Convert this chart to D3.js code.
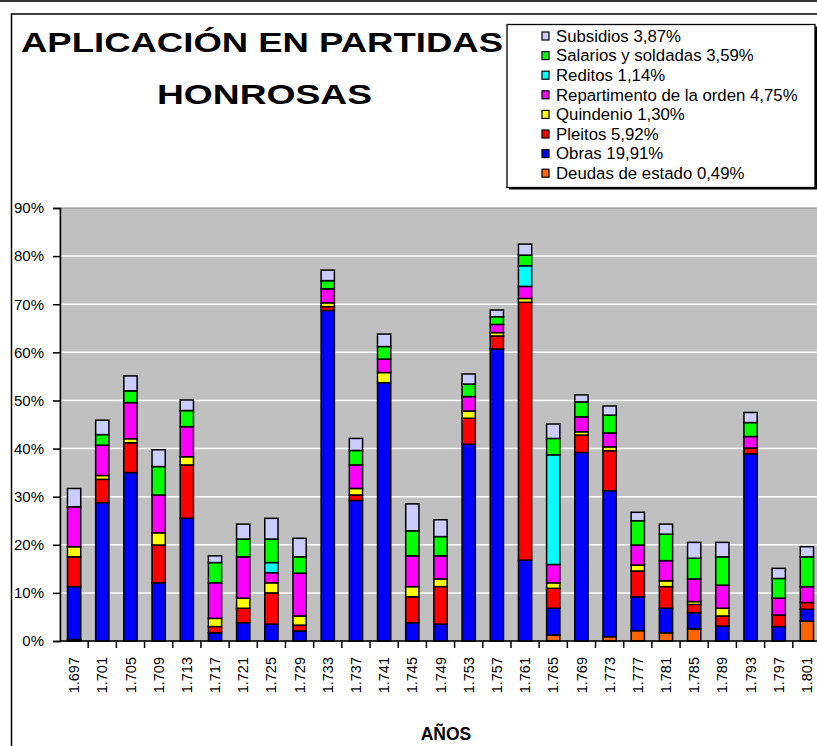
<!DOCTYPE html>
<html>
<head>
<meta charset="utf-8">
<script src="https://cdn.jsdelivr.net/npm/d3@7"></script>
<style>
  body { margin: 0; background: #fff; }
  svg { display: block; font-family: "Liberation Sans", Arial, sans-serif; }
</style>
</head>
<body>
<div id="chart"></div>
<script>
// Data (percent of total)
const years = ["1.697","1.701","1.705","1.709","1.713","1.717","1.721","1.725","1.729","1.733","1.737","1.741","1.745","1.749","1.753","1.757","1.761","1.765","1.769","1.773","1.777","1.781","1.785","1.789","1.793","1.797","1.801"];

const deudas       = [0.3,0,0,0,0,0,0,0,0,0,0,0,0,0,0,0,0,1.25,0,0.9,2.15,1.7,2.5,0,0,0,4.15];
const obras        = [11.0,28.75,35.0,12.1,25.5,1.7,3.8,3.5,2.1,68.7,29.2,53.7,3.8,3.5,40.9,60.7,16.8,5.55,39.2,30.35,7.05,5.1,3.4,3.1,38.9,3.0,2.45];
const pleitos      = [6.2,4.85,6.2,7.85,11.1,1.3,3.0,6.5,1.2,0.8,1.15,0,5.4,7.8,5.4,2.7,53.6,4.15,3.6,8.3,5.35,4.5,1.7,2.1,1.2,2.4,1.4];
const quindenio    = [2.1,0.8,0.85,2.55,1.7,1.7,2.1,2.1,1.9,0.8,1.35,2.1,2.1,1.6,1.5,0.7,0.8,1.15,0.7,0.8,1.25,1.2,0.6,1.6,0,0,0];
const repartimento = [8.3,6.3,7.5,7.85,6.25,7.4,8.6,2.1,8.9,2.9,4.9,2.8,6.4,4.8,3.0,1.7,2.5,3.8,3.1,2.9,4.15,4.2,4.7,4.8,2.4,3.5,3.3];
const reditos      = [0,0,0,0,0,0,0,2.1,0,0,0,0,0,0,0,0,4.3,22.8,0,0,0,0,0,0,0,0,0];
const salarios     = [0,2.2,2.45,5.9,3.35,4.2,3.7,4.9,3.4,1.7,3.0,2.6,5.2,4.0,2.6,1.6,2.2,3.4,3.1,3.7,5.05,5.5,4.3,5.9,2.9,4.1,6.2];
const subsidios    = [3.8,3.0,3.1,3.5,2.2,1.4,3.1,4.3,3.85,2.2,2.5,2.6,5.6,3.5,2.1,1.4,2.3,3.0,1.45,1.9,1.75,2.1,3.3,3.0,2.1,2.1,2.1];

// bottom to top stacking order
const series = [
  { key: "deudas",       label: "Deudas de estado 0,49%",         color: "#FF6600", values: deudas },
  { key: "obras",        label: "Obras 19,91%",                   color: "#0000FF", values: obras },
  { key: "pleitos",      label: "Pleitos 5,92%",                  color: "#FF0000", values: pleitos },
  { key: "quindenio",    label: "Quindenio 1,30%",                color: "#FFFF00", values: quindenio },
  { key: "repartimento", label: "Repartimento de la orden 4,75%", color: "#FF00FF", values: repartimento },
  { key: "reditos",      label: "Reditos 1,14%",                  color: "#00FFFF", values: reditos },
  { key: "salarios",     label: "Salarios y soldadas 3,59%",      color: "#00FF00", values: salarios },
  { key: "subsidios",    label: "Subsidios 3,87%",                color: "#CCCCFF", values: subsidios }
];
const yTicks = [0, 10, 20, 30, 40, 50, 60, 70, 80, 90];

const width = 817, height = 746;
const plot = { left: 60, top: 208, right: 821, bottom: 641 };

const svg = d3.select("#chart").append("svg")
  .attr("width", width)
  .attr("height", height);

svg.append("rect").attr("width", width).attr("height", height).attr("fill", "#fff");

// sheet line at very top
svg.append("line")
  .attr("x1", 0).attr("x2", width).attr("y1", 1).attr("y2", 1)
  .attr("stroke", "#333").attr("stroke-width", 2);

// chart frame (runs off the page right and bottom)
svg.append("rect")
  .attr("x", 11.5).attr("y", 14)
  .attr("width", 900).attr("height", 800)
  .attr("fill", "none").attr("stroke", "#000").attr("stroke-width", 1.5);

// Title
svg.append("text")
  .attr("x", 262).attr("y", 52)
  .attr("text-anchor", "middle")
  .attr("font-size", "28px").attr("font-weight", "bold")
  .attr("textLength", 482).attr("lengthAdjust", "spacingAndGlyphs")
  .text("APLICACIÓN EN PARTIDAS");
svg.append("text")
  .attr("x", 264.5).attr("y", 104)
  .attr("text-anchor", "middle")
  .attr("font-size", "28px").attr("font-weight", "bold")
  .attr("textLength", 215).attr("lengthAdjust", "spacingAndGlyphs")
  .text("HONROSAS");

// Scales
const x = d3.scaleBand()
  .domain(years)
  .range([plot.left, plot.right])
  .paddingInner(0.53).paddingOuter(0.265);
const y = d3.scaleLinear()
  .domain([0, 90])
  .range([plot.bottom, plot.top]);

// Plot area
svg.append("rect")
  .attr("x", plot.left).attr("y", plot.top)
  .attr("width", plot.right - plot.left).attr("height", plot.bottom - plot.top)
  .attr("fill", "#C0C0C0").attr("stroke", "#808080").attr("stroke-width", 1);

// gridlines
svg.append("g")
  .selectAll("line")
  .data(yTicks.filter(d => d > 0 && d < 90))
  .enter().append("line")
  .attr("x1", plot.left).attr("x2", plot.right)
  .attr("y1", d => y(d)).attr("y2", d => y(d))
  .attr("stroke", "#fff").attr("stroke-width", 1.5);

// Stack
const table = years.map((yr, i) => {
  const row = { year: yr };
  series.forEach(s => row[s.key] = s.values[i]);
  return row;
});
const stacked = d3.stack().keys(series.map(s => s.key))(table);

const layers = svg.append("g")
  .selectAll("g")
  .data(stacked)
  .enter().append("g")
  .attr("fill", (d, i) => series[i].color);

layers.selectAll("rect")
  .data(d => d.filter(p => p[1] - p[0] > 0))
  .enter().append("rect")
  .attr("x", d => x(d.data.year))
  .attr("width", x.bandwidth())
  .attr("y", d => y(d[1]))
  .attr("height", d => y(d[0]) - y(d[1]))
  .attr("stroke", "#000")
  .attr("stroke-width", 1.5);

// Y axis
const yAxis = svg.append("g")
  .attr("transform", `translate(${plot.left},0)`)
  .call(d3.axisLeft(y).tickValues(yTicks).tickSize(7).tickPadding(9).tickFormat(d => d + "%"));
yAxis.select(".domain").attr("stroke", "#000").attr("stroke-width", 1.5);
yAxis.selectAll(".tick line").attr("stroke", "#000").attr("stroke-width", 1.5);
yAxis.selectAll("text")
  .attr("font-size", "15px").attr("fill", "#000")
  .attr("font-family", "Liberation Sans, Arial, sans-serif");

// X axis line and ticks at band boundaries
const xAxis = svg.append("g");
xAxis.append("line")
  .attr("x1", plot.left).attr("x2", plot.right)
  .attr("y1", plot.bottom).attr("y2", plot.bottom)
  .attr("stroke", "#000").attr("stroke-width", 1.5);
xAxis.selectAll(".xtick")
  .data(years)
  .enter().append("line")
  .attr("class", "xtick")
  .attr("x1", d => x(d) + x.bandwidth() / 2 + x.step() / 2)
  .attr("x2", d => x(d) + x.bandwidth() / 2 + x.step() / 2)
  .attr("y1", plot.bottom).attr("y2", plot.bottom + 7)
  .attr("stroke", "#000").attr("stroke-width", 1.5);
xAxis.selectAll(".xlabel")
  .data(years)
  .enter().append("text")
  .attr("class", "xlabel")
  .attr("transform", d => `translate(${x(d) + x.bandwidth() / 2},657) rotate(-90)`)
  .attr("text-anchor", "end")
  .attr("dy", "0.35em")
  .attr("font-size", "14.5px")
  .text(d => d);

// X axis title
svg.append("text")
  .attr("x", 446).attr("y", 740)
  .attr("text-anchor", "middle")
  .attr("font-size", "17.5px").attr("font-weight", "bold")
  .text("AÑOS");

// Legend
const legend = svg.append("g");
legend.append("rect")
  .attr("x", 509).attr("y", 26.5)
  .attr("width", 308).attr("height", 163)
  .attr("fill", "#000");
legend.append("rect")
  .attr("x", 507).attr("y", 24.5)
  .attr("width", 308).attr("height", 163)
  .attr("fill", "#fff").attr("stroke", "#000").attr("stroke-width", 1.3);

const legendItems = legend.selectAll(".item")
  .data(series.slice().reverse())
  .enter().append("g")
  .attr("class", "item")
  .attr("transform", (d, i) => `translate(0,${36 + i * 19.6})`);
legendItems.append("rect")
  .attr("x", 542).attr("y", -4)
  .attr("width", 7).attr("height", 8)
  .attr("fill", d => d.color)
  .attr("stroke", "#000").attr("stroke-width", 1.2);
legendItems.append("text")
  .attr("x", 556).attr("y", 0)
  .attr("dy", "0.35em")
  .attr("font-size", "16.8px")
  .text(d => d.label);
</script>
</body>
</html>
